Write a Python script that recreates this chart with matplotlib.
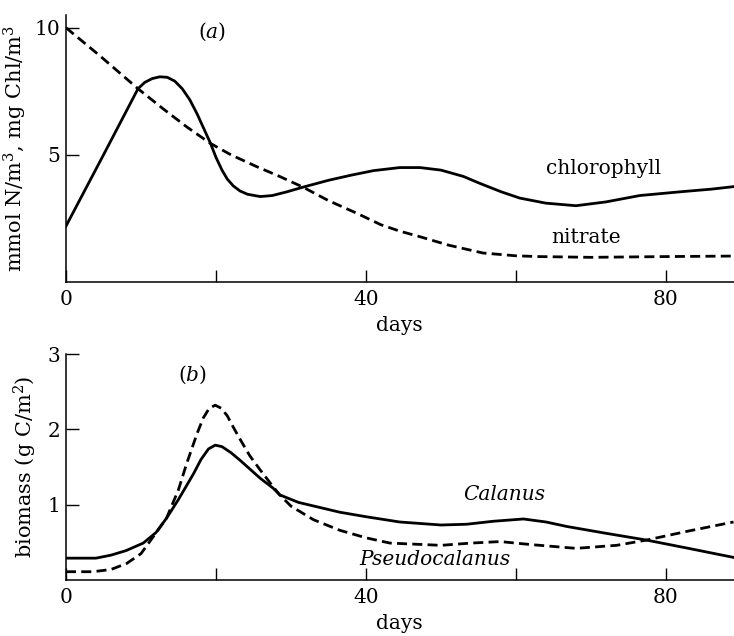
import matplotlib
matplotlib.use("Agg")
import matplotlib.pyplot as plt

# ---- data ----
chl_days = [0, 5, 9.6, 10.5, 11.5, 12.5, 13.5, 14.5, 15.5, 16.5, 17.5, 18.5, 19.2, 20, 20.8, 21.5,
            22.3, 23.2, 24.2, 25.9, 27.5, 29.5, 31.6, 35, 38, 41, 44.5, 47.2, 50, 53, 55, 58,
            60.5, 64, 68, 72, 76.5, 82, 86, 89]
chl_vals = [2.2, 5.0, 7.6, 7.85, 8.0, 8.07, 8.05, 7.9, 7.6, 7.17, 6.6, 5.95, 5.5, 4.9, 4.4, 4.05,
            3.78, 3.58, 3.45, 3.36, 3.4, 3.55, 3.73, 4.0, 4.2, 4.38, 4.5, 4.5, 4.4, 4.15, 3.9, 3.55,
            3.3, 3.1, 3.0, 3.15, 3.4, 3.55, 3.65, 3.75]

nit_days = [0, 4.5, 9.6, 13, 16.1, 19.2, 22, 25.4, 28.5, 31.6, 35, 38.8, 42, 44.5, 47.2, 51,
            55.6, 60, 63, 70, 80, 89]
nit_vals = [10.0, 8.9, 7.6, 6.8, 6.1, 5.46, 5.0, 4.54, 4.15, 3.73, 3.2, 2.7, 2.25, 2.0, 1.78, 1.45,
            1.14, 1.03, 1.0, 0.97, 1.0, 1.02]

cal_days = [0, 4, 6, 8, 10.3, 12, 13.4, 15, 17, 18, 19, 19.9, 20.8, 22, 23.2, 25.9, 27.6, 28.5,
            31, 36.5, 40, 44.5, 50, 53.4, 57, 61, 64, 66.8, 72, 77.4, 83, 89]
cal_vals = [0.29, 0.29, 0.33, 0.39, 0.49, 0.63, 0.82, 1.07, 1.41, 1.6, 1.74, 1.79, 1.77, 1.69, 1.59,
            1.35, 1.22, 1.13, 1.03, 0.9, 0.84, 0.77, 0.73, 0.74, 0.78, 0.81, 0.77, 0.71, 0.62, 0.53,
            0.42, 0.30]

pse_days = [0, 3.6, 6, 8.1, 10, 11.6, 13.4, 15, 16.1, 17.5, 18.3, 19.1, 19.9, 20.7, 21.5, 22.3,
            23.2, 24.5, 25.9, 27.6, 28.5, 30, 33, 36.5, 40, 43.2, 50, 54, 57.9, 62, 68, 73.4,
            77.4, 83, 89]
pse_vals = [0.11, 0.11, 0.14, 0.22, 0.35, 0.57, 0.82, 1.2, 1.55, 1.95, 2.15, 2.28, 2.32, 2.28,
            2.18, 2.03, 1.87, 1.65, 1.46, 1.24, 1.13, 0.98, 0.8, 0.66, 0.56, 0.49, 0.46, 0.49,
            0.51, 0.47, 0.42, 0.46, 0.53, 0.65, 0.77]

x_ticks = [0, 20, 40, 60, 80]
x_ticklabels = ["0", "", "40", "", "80"]
ya_ticks = [5, 10]
yb_ticks = [1, 2, 3]

plt.rcParams["font.family"] = ["DejaVu Serif"]
plt.rcParams["mathtext.fontset"] = "dejavuserif"

fig = plt.figure(figsize=(7.34, 6.36), dpi=100)
W, H = 734, 636
def ax_rect(x0, x1, y_top, y_bot):
    return [x0 / W, 1 - y_bot / H, (x1 - x0) / W, (y_bot - y_top) / H]

axa = fig.add_axes(ax_rect(66, 733.5, 15, 282))
axb = fig.add_axes(ax_rect(66, 733.5, 354, 580))

lw = 2.0
dash = (3.6, 1.9)
fs = 14.5

axa.plot(chl_days, chl_vals, color="black", lw=lw, solid_joinstyle="round")
axa.plot(nit_days, nit_vals, color="black", lw=lw, linestyle=(0, dash))
axb.plot(cal_days, cal_vals, color="black", lw=lw, solid_joinstyle="round")
axb.plot(pse_days, pse_vals, color="black", lw=lw, linestyle=(0, dash))

for ax, ylim, yt, lp in [(axa, (0, 10.5), ya_ticks, 5), (axb, (0, 3), yb_ticks, 5)]:
    ax.set_xlim(0, 89)
    ax.set_ylim(*ylim)
    for s in ("top", "right"):
        ax.spines[s].set_visible(False)
    for s in ("left", "bottom"):
        ax.spines[s].set_linewidth(1.1)
    ax.set_xticks(x_ticks)
    ax.set_xticklabels(x_ticklabels)
    ax.set_yticks(yt)
    ax.tick_params(direction="in", length=9, width=1.0, labelsize=fs, pad=6)
    ax.tick_params(axis="y", pad=4)
    ax.set_xlabel("days", fontsize=fs, labelpad=lp)
    ax.patch.set_visible(False)

axa.set_ylabel("mmol N/m$^3$, mg Chl/m$^3$", fontsize=15, labelpad=4)
axb.set_ylabel("biomass (g C/m$^2$)", fontsize=15, labelpad=6)

axa.text(19.5, 9.85, "$(a)$", fontsize=fs, ha="center", va="center")
axb.text(16.8, 2.73, "$(b)$", fontsize=fs, ha="center", va="center")
axa.text(71.7, 4.45, "chlorophyll", fontsize=fs, ha="center", va="center")
axa.text(69.3, 1.75, "nitrate", fontsize=fs, ha="center", va="center")
axb.text(58.5, 1.13, "Calanus", fontsize=fs, ha="center", va="center", style="italic")
axb.text(49.2, 0.27, "Pseudocalanus", fontsize=fs, ha="center", va="center", style="italic")

fig.savefig("out.png", dpi=100)
